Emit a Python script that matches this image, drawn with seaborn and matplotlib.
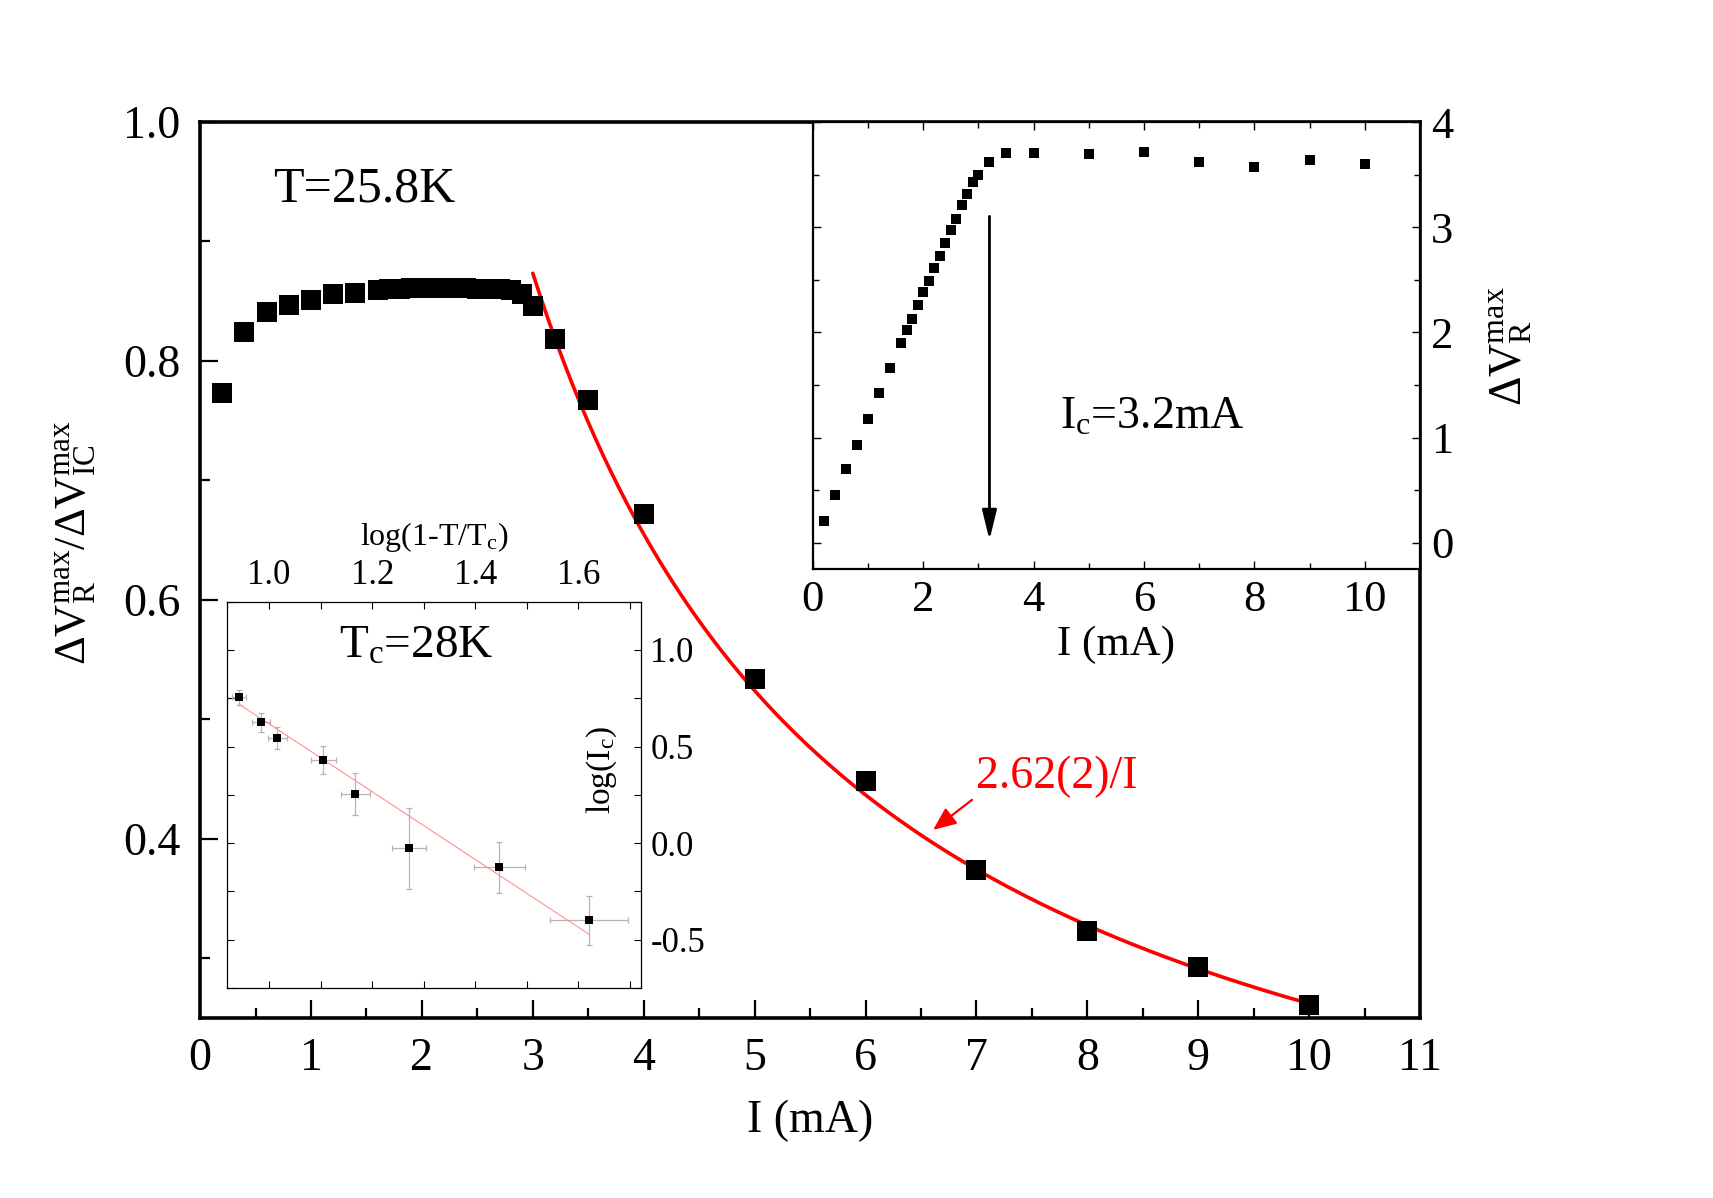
"""Normalised peak response vs bias current, with I_c and log-log insets."""

import matplotlib

matplotlib.use("Agg")
import matplotlib.pyplot as plt
from matplotlib.ticker import MultipleLocator, FormatStrFormatter
import numpy as np
import seaborn as sns

# main panel: dV_R^max / dV_IC^max vs I (mA)
main_I = [0.2, 0.4, 0.6, 0.8, 1.0, 1.2, 1.4,
          1.6, 1.7, 1.8, 1.9, 2.0, 2.1, 2.2, 2.3, 2.4, 2.5, 2.6, 2.7, 2.8,
          2.9, 3.0, 3.2, 3.5, 4.0, 5.0, 6.0, 7.0, 8.0, 9.0, 10.0]
main_ratio = [0.773, 0.824, 0.841, 0.847, 0.851, 0.856, 0.857,
              0.859, 0.860, 0.860, 0.861, 0.861, 0.861, 0.861, 0.861, 0.861,
              0.860, 0.860, 0.860, 0.859,
              0.856, 0.846, 0.818, 0.767, 0.672, 0.534, 0.448, 0.374,
              0.323, 0.293, 0.261]
fit_coef = 2.62
fit_I_range = (3.0, 10.0)

# upper inset: dV_R^max vs I (mA)
inset_I = [0.2, 0.4, 0.6, 0.8, 1.0, 1.2, 1.4, 1.6, 1.7, 1.8, 1.9, 2.0, 2.1,
           2.2, 2.3, 2.4, 2.5, 2.6, 2.7, 2.8, 2.9, 3.0, 3.2, 3.5, 4.0, 5.0,
           6.0, 7.0, 8.0, 9.0, 10.0]
inset_dv = [0.21, 0.45, 0.70, 0.93, 1.18, 1.42, 1.66, 1.90, 2.02, 2.13, 2.26,
            2.38, 2.49, 2.61, 2.73, 2.85, 2.97, 3.08, 3.21, 3.32, 3.43, 3.50,
            3.62, 3.71, 3.71, 3.70, 3.72, 3.62, 3.57, 3.64, 3.60]
Ic = 3.2

# lower inset: log(I_c) vs log(1-T/T_c)
log_t = [0.942, 0.984, 1.016, 1.105, 1.167, 1.271, 1.447, 1.621]
log_ic = [0.754, 0.625, 0.544, 0.432, 0.254, -0.026, -0.126, -0.400]
log_t_err = [0.014, 0.018, 0.019, 0.024, 0.028, 0.033, 0.050, 0.075]
log_ic_err = [0.037, 0.048, 0.057, 0.073, 0.110, 0.210, 0.130, 0.125]
line_slope, line_intercept = -1.754, 2.371

sns.set_style("ticks")
plt.rcParams["font.family"] = ["Liberation Serif", "DejaVu Serif"]
plt.rcParams["mathtext.fontset"] = "custom"
plt.rcParams["mathtext.rm"] = "Liberation Serif"
plt.rcParams["mathtext.it"] = "Liberation Serif:italic"
plt.rcParams["mathtext.bf"] = "Liberation Serif:bold"
for key in ("text.color", "axes.labelcolor", "axes.edgecolor",
            "xtick.color", "ytick.color"):
    plt.rcParams[key] = "black"

fig = plt.figure(figsize=(17.13, 11.98), dpi=100)
ax = fig.add_axes([0.1168, 0.1503, 0.7122, 0.7479])

# ---- main panel
sns.scatterplot(x=main_I, y=main_ratio, marker="s", s=190, color="black",
                linewidth=0, ax=ax, zorder=3)
fit_I = np.linspace(*fit_I_range, 200)
sns.lineplot(x=fit_I, y=fit_coef / fit_I, color="#ff0000", lw=2.6, ax=ax,
             zorder=2)
ax.set_xlim(0, 11)
ax.set_ylim(0.25, 1.0)
ax.xaxis.set_major_locator(MultipleLocator(1))
ax.xaxis.set_minor_locator(MultipleLocator(0.5))
ax.yaxis.set_minor_locator(MultipleLocator(0.1))
ax.set_yticks([0.4, 0.6, 0.8, 1.0])
ax.tick_params(which="both", direction="in", top=False, right=False,
               width=1.6, labelsize=33)
ax.tick_params(which="major", length=13, pad=14)
ax.tick_params(which="minor", length=7)
for s in ax.spines.values():
    s.set_linewidth(2.6)
ax.set_xlabel("I (mA)", fontsize=33, labelpad=14)
ax.set_ylabel(r"$\Delta\mathrm{V}_\mathrm{R}^\mathrm{max}/\Delta\mathrm{V}_\mathrm{IC}^\mathrm{max}$",
              fontsize=32)
ax.yaxis.set_label_coords(-0.083, 0.53)
ax.text(0.66, 0.944, "T=25.8K", fontsize=36, va="center", ha="left")
ax.annotate("", xy=(6.59, 0.406), xytext=(6.98, 0.434),
            arrowprops=dict(arrowstyle="-|>,head_length=0.7,head_width=0.3",
                            color="#ff0000", lw=1.6, mutation_scale=20))
ax.text(7.0, 0.452, "2.62(2)/I", color="#ff0000", fontsize=33,
        va="center", ha="left")

# ---- upper inset
ax1 = fig.add_axes([0.4745, 0.525, 0.3545, 0.3731])
ax1.set_facecolor("white")
sns.scatterplot(x=inset_I, y=inset_dv, marker="s", s=55, color="black",
                linewidth=0, ax=ax1)
ax1.annotate("", xy=(Ic, 0.0), xytext=(Ic, 3.13),
             arrowprops=dict(arrowstyle="-|>,head_length=0.9,head_width=0.22",
                             color="black", lw=2, mutation_scale=20))
ax1.text(4.48, 1.08, r"I$_\mathrm{c}$=3.2mA", fontsize=33, va="baseline",
         ha="left")
ax1.set_xlim(0, 11)
ax1.set_ylim(-0.25, 4)
ax1.xaxis.set_major_locator(MultipleLocator(2))
ax1.xaxis.set_minor_locator(MultipleLocator(1))
ax1.yaxis.set_major_locator(MultipleLocator(1))
ax1.yaxis.set_minor_locator(MultipleLocator(0.5))
ax1.yaxis.tick_right()
ax1.yaxis.set_label_position("right")
ax1.tick_params(which="both", direction="in", top=True, bottom=True,
                left=True, right=True, labelleft=False, labelright=True,
                width=1.0, labelsize=32)
ax1.tick_params(which="major", length=6, pad=8)
ax1.tick_params(which="minor", length=4)
for s in ax1.spines.values():
    s.set_linewidth(1.6)
ax1.set_xlabel("I (mA)", fontsize=31, labelpad=4)
ax1.set_ylabel(r"$\Delta\mathrm{V}_\mathrm{R}^\mathrm{max}$", fontsize=33,
               labelpad=24)

# ---- lower inset
ax2 = fig.add_axes([0.1327, 0.1753, 0.2413, 0.3225])
ax2.set_facecolor("white")
ax2.errorbar(log_t, log_ic, xerr=log_t_err, yerr=log_ic_err, fmt="none",
             ecolor="#b5b5b5", elinewidth=0.9, capsize=2, capthick=0.9,
             zorder=2)
line_x = np.array([log_t[0], log_t[-1]])
sns.lineplot(x=line_x, y=line_slope * line_x + line_intercept,
             color="#ff9090", lw=0.8, ax=ax2, zorder=3)
sns.scatterplot(x=log_t, y=log_ic, marker="s", s=30, color="black",
                linewidth=0, ax=ax2, zorder=4)
ax2.set_xlim(0.919, 1.721)
ax2.set_ylim(-0.75, 1.25)
ax2.xaxis.set_major_locator(MultipleLocator(0.2))
ax2.xaxis.set_minor_locator(MultipleLocator(0.1))
ax2.yaxis.set_major_locator(MultipleLocator(0.5))
ax2.yaxis.set_minor_locator(MultipleLocator(0.25))
ax2.xaxis.tick_top()
ax2.yaxis.tick_right()
ax2.xaxis.set_label_position("top")
ax2.tick_params(which="both", direction="in", top=True, bottom=True,
                left=True, right=True, labelbottom=False, labelleft=False,
                labeltop=True, labelright=True, width=0.8, labelsize=25)
ax2.tick_params(which="both", length=5, pad=7)
ax2.xaxis.set_major_formatter(FormatStrFormatter("%.1f"))
ax2.yaxis.set_major_formatter(FormatStrFormatter("%.1f"))
for s in ax2.spines.values():
    s.set_linewidth(0.9)
ax2.set_xlabel(r"log(1-T/T$_\mathrm{c}$)", fontsize=23, labelpad=10)
ax2.text(0.905, 0.565, r"log(I$_\mathrm{c}$)", transform=ax2.transAxes,
         rotation=90, fontsize=24, ha="center", va="center")
ax2.text(0.458, 0.885, r"T$_\mathrm{c}$=28K", transform=ax2.transAxes,
         fontsize=34, ha="center", va="center")

fig.savefig("out.png", dpi=100, facecolor="white")
plt.close(fig)
